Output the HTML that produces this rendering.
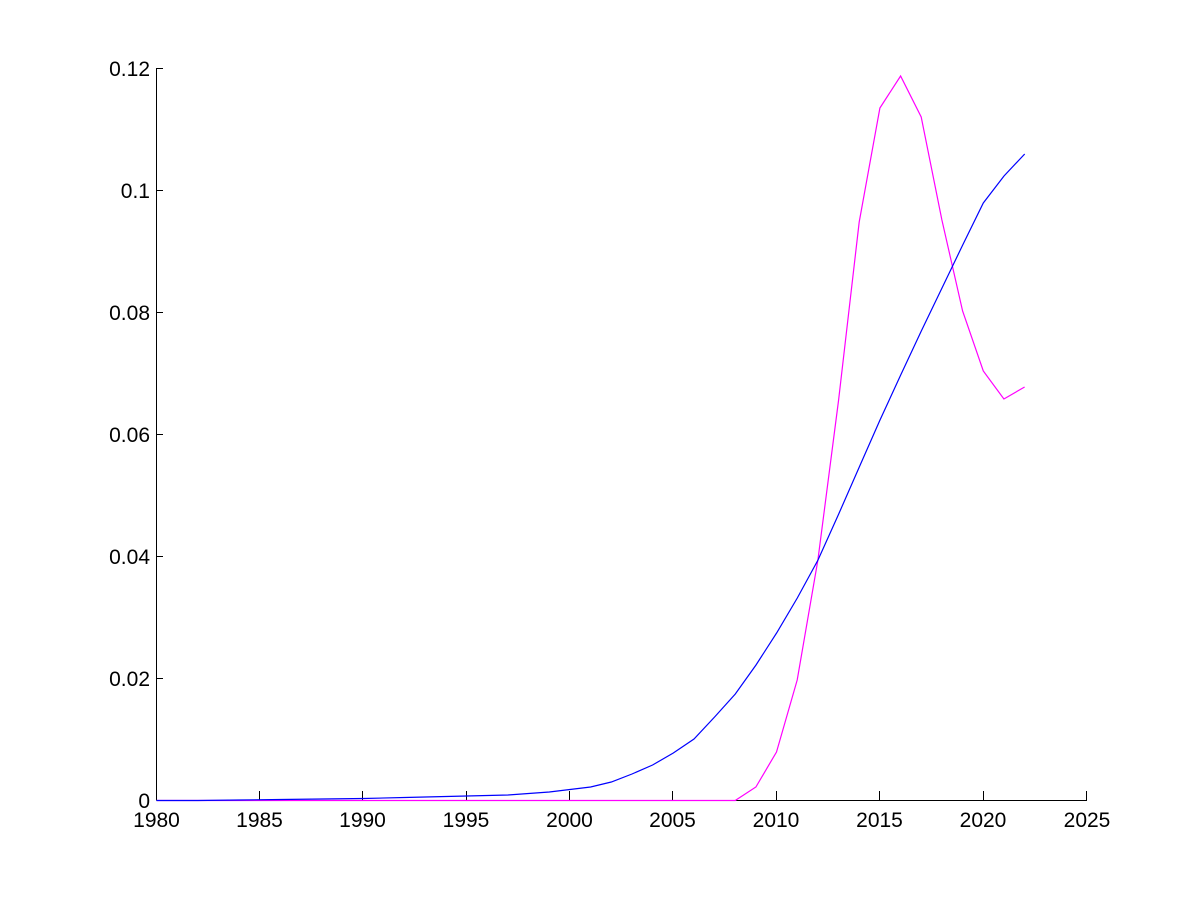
<!DOCTYPE html>
<html>
<head>
<meta charset="utf-8">
<style>
html,body{margin:0;padding:0;background:#fff;}
svg{display:block;}
text{font-family:"Liberation Sans",Arial,sans-serif;font-size:21px;fill:#000;}
</style>
</head>
<body>
<svg width="1200" height="900" viewBox="0 0 1200 900" xmlns="http://www.w3.org/2000/svg">
<rect width="1200" height="900" fill="#fff"/>
<!-- axes -->
<g stroke="#000" stroke-width="1" fill="none" shape-rendering="crispEdges">
<line x1="156.5" y1="68" x2="156.5" y2="800.5"/>
<line x1="156.5" y1="800.5" x2="1087" y2="800.5"/>
<!-- y ticks -->
<line x1="156.5" y1="68.5" x2="163" y2="68.5"/>
<line x1="156.5" y1="190.5" x2="163" y2="190.5"/>
<line x1="156.5" y1="312.5" x2="163" y2="312.5"/>
<line x1="156.5" y1="434.5" x2="163" y2="434.5"/>
<line x1="156.5" y1="556.5" x2="163" y2="556.5"/>
<line x1="156.5" y1="678.5" x2="163" y2="678.5"/>
<!-- x ticks -->
<line x1="259.5" y1="791" x2="259.5" y2="800"/>
<line x1="362.5" y1="791" x2="362.5" y2="800"/>
<line x1="466.5" y1="791" x2="466.5" y2="800"/>
<line x1="569.5" y1="791" x2="569.5" y2="800"/>
<line x1="672.5" y1="791" x2="672.5" y2="800"/>
<line x1="776.5" y1="791" x2="776.5" y2="800"/>
<line x1="879.5" y1="791" x2="879.5" y2="800"/>
<line x1="983.5" y1="791" x2="983.5" y2="800"/>
<line x1="1086.5" y1="791" x2="1086.5" y2="800"/>
</g>
<!-- y labels -->
<g text-anchor="end">
<text x="150" y="76">0.12</text>
<text x="150" y="198">0.1</text>
<text x="150" y="320">0.08</text>
<text x="150" y="442">0.06</text>
<text x="150" y="564">0.04</text>
<text x="150" y="686">0.02</text>
<text x="150" y="808">0</text>
</g>
<!-- x labels -->
<g text-anchor="middle">
<text x="156.5" y="827">1980</text>
<text x="259.5" y="827">1985</text>
<text x="362.5" y="827">1990</text>
<text x="466" y="827">1995</text>
<text x="569.5" y="827">2000</text>
<text x="672.5" y="827">2005</text>
<text x="776" y="827">2010</text>
<text x="879.5" y="827">2015</text>
<text x="983" y="827">2020</text>
<text x="1087" y="827">2025</text>
</g>
<!-- magenta series -->
<polyline fill="none" stroke="#ff00ff" stroke-width="1.2" points="156.5,800.5 735.2,800.5 755.9,787 776.5,752 797.2,680 817.9,560 838.6,400 859.2,222 879.9,108 900.6,76 921.2,117 941.9,220 962.6,311 983.3,371 1003.9,399 1024.6,387"/>
<!-- blue series -->
<polyline fill="none" stroke="#0000ff" stroke-width="1.2" points="156.5,800.5 197.8,800.5 239.2,800 280.5,799.5 321.9,799 363.2,798.5 404.6,797.5 445.9,796.5 487.3,795.5 507.9,795 528.6,793.5 549.3,792 569.9,789.5 590.6,787 611.3,782 632,774 652.6,765 673.3,753 694,739 714.6,717 735.3,694 756,665 776.6,633 797.3,598 818,560 838.7,514 859.3,467 880,420 900.7,375 921.3,331 942,288 962.7,245 983.3,203 1004,176 1024.7,154"/>
</svg>
</body>
</html>
